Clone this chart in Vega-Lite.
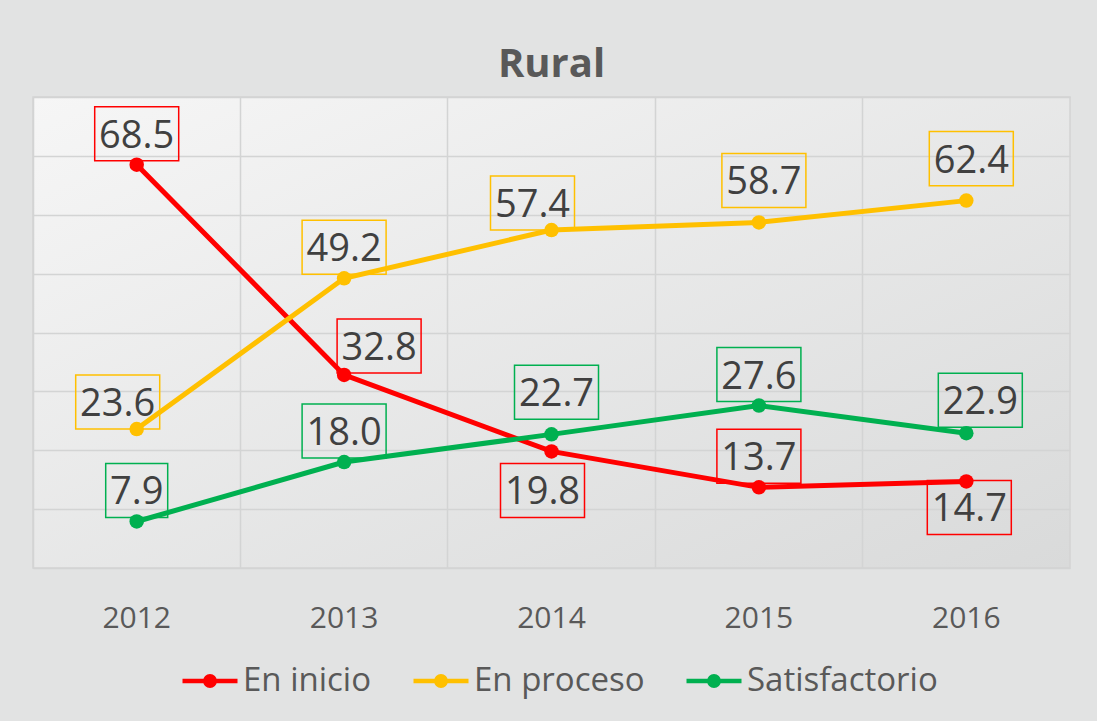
{
  "$schema": "https://vega.github.io/schema/vega-lite/v6.json",
  "width": 1037,
  "height": 471,
  "autosize": "none",
  "padding": {"left": 33, "top": 97, "right": 27, "bottom": 153},
  "background": "#e2e3e3",
  "config": {
    "font": "Open Sans",
    "view": {
      "stroke": "#d3d4d4",
      "strokeWidth": 1.5,
      "fill": {
        "gradient": "linear",
        "x1": 0, "y1": 0, "x2": 1, "y2": 1,
        "stops": [{"offset": 0, "color": "#f6f6f6"}, {"offset": 1, "color": "#d9dada"}]
      }
    },
    "axis": {"gridColor": "#d3d4d4", "gridWidth": 1.5, "domain": false, "ticks": false, "tickSize": 0}
  },
  "title": {"text": "Rural", "fontSize": 40, "fontWeight": "bold", "color": "#595959", "offset": 12, "anchor": "middle", "font": "Open Sans"},
  "data": {
    "values": [
      {"year": "2012", "series": "En inicio", "value": 68.5},
      {"year": "2013", "series": "En inicio", "value": 32.8},
      {"year": "2014", "series": "En inicio", "value": 19.8},
      {"year": "2015", "series": "En inicio", "value": 13.7},
      {"year": "2016", "series": "En inicio", "value": 14.7},
      {"year": "2012", "series": "En proceso", "value": 23.6},
      {"year": "2013", "series": "En proceso", "value": 49.2},
      {"year": "2014", "series": "En proceso", "value": 57.4},
      {"year": "2015", "series": "En proceso", "value": 58.7},
      {"year": "2016", "series": "En proceso", "value": 62.4},
      {"year": "2012", "series": "Satisfactorio", "value": 7.9},
      {"year": "2013", "series": "Satisfactorio", "value": 18.0},
      {"year": "2014", "series": "Satisfactorio", "value": 22.7},
      {"year": "2015", "series": "Satisfactorio", "value": 27.6},
      {"year": "2016", "series": "Satisfactorio", "value": 22.9}
    ]
  },
  "encoding": {
    "x": {
      "field": "year", "type": "ordinal",
      "scale": {"type": "band", "paddingInner": 0, "paddingOuter": 0},
      "axis": {"title": null, "labelAngle": 0, "bandPosition": 0, "labelFontSize": 30, "labelColor": "#595959", "labelPadding": 35, "grid": true, "labelFont": "Open Sans"}
    },
    "y": {
      "field": "value", "type": "quantitative",
      "scale": {"domain": [0, 80], "nice": false},
      "axis": {"title": null, "labels": false, "values": [0, 10, 20, 30, 40, 50, 60, 70, 80], "minExtent": 0, "grid": true}
    }
  },
  "layer": [
    {
      "mark": {"type": "line", "strokeWidth": 5},
      "encoding": {
        "color": {
          "field": "series", "type": "nominal",
          "scale": {"domain": ["En inicio", "En proceso", "Satisfactorio"], "range": ["#ff0000", "#ffc000", "#00b050"]},
          "legend": {
            "title": null, "orient": "none", "direction": "horizontal", "legendX": 147, "legendY": 554,
            "labelFontSize": 33, "labelColor": "#595959", "labelFont": "Open Sans", "labelLimit": 400,
            "symbolType": "M-1,0H1M-0.17,0A0.17,0.17,0,1,1,0.17,0A0.17,0.17,0,1,1,-0.17,0Z",
            "symbolSize": 3025, "symbolStrokeWidth": 4.5, "labelOffset": 3, "columnPadding": 32,
            "encode": {"symbols": {"update": {"fill": {"scale": "color", "field": "value"}, "stroke": {"scale": "color", "field": "value"}, "opacity": {"value": 1}}}}
          }
        }
      }
    },
    {
      "mark": {"type": "point", "filled": true, "size": 210, "opacity": 1},
      "encoding": {"color": {"field": "series", "type": "nominal"}}
    },
    {
      "transform": [{"filter": "!((datum.series=='En proceso' && (datum.year=='2015'||datum.year=='2016'||datum.year=='2012'||datum.year=='2014')) || (datum.series=='Satisfactorio' && (datum.year=='2014'||datum.year=='2016')) || (datum.series=='En inicio' && (datum.year=='2013'||datum.year=='2014'||datum.year=='2016')))"}],
      "layer": [
        {
          "mark": {"type": "point", "filled": false, "size": 7056, "strokeWidth": 1.5, "opacity": 1, "yOffset": -31},
          "encoding": {
            "color": {"field": "series", "type": "nominal"},
            "shape": {"condition": {"test": "datum.value < 10", "value": "M-0.738,-0.643H0.738V0.643H-0.738Z"}, "value": "M-1,-0.643H1V0.643H-1Z"}
          }
        },
        {
          "mark": {"type": "text", "font": "Open Sans", "fontSize": 38, "color": "#404040", "yOffset": -28},
          "encoding": {"text": {"field": "value", "type": "quantitative", "format": ".1f"}}
        }
      ]
    },
    {
      "transform": [{"filter": "datum.series=='Satisfactorio' && datum.year=='2016'"}],
      "layer": [
        {
          "mark": {"type": "point", "filled": false, "size": 7056, "strokeWidth": 1.5, "opacity": 1, "yOffset": -33, "xOffset": 14, "shape": "M-1,-0.643H1V0.643H-1Z"},
          "encoding": {"color": {"field": "series", "type": "nominal"}}
        },
        {
          "mark": {"type": "text", "font": "Open Sans", "fontSize": 38, "color": "#404040", "yOffset": -30, "xOffset": 14},
          "encoding": {"text": {"field": "value", "type": "quantitative", "format": ".1f"}}
        }
      ]
    },
    {
      "transform": [{"filter": "(datum.series=='En proceso' && (datum.year=='2015'||datum.year=='2016')) || (datum.series=='Satisfactorio' && datum.year=='2014')"}],
      "layer": [
        {
          "mark": {"type": "point", "filled": false, "size": 7056, "strokeWidth": 1.5, "opacity": 1, "yOffset": -42, "xOffset": 5, "shape": "M-1,-0.643H1V0.643H-1Z"},
          "encoding": {"color": {"field": "series", "type": "nominal"}}
        },
        {
          "mark": {"type": "text", "font": "Open Sans", "fontSize": 38, "color": "#404040", "yOffset": -39, "xOffset": 5},
          "encoding": {"text": {"field": "value", "type": "quantitative", "format": ".1f"}}
        }
      ]
    },
    {
      "transform": [{"filter": "datum.series=='En inicio' && datum.year=='2014'"}],
      "layer": [
        {
          "mark": {"type": "point", "filled": false, "size": 7056, "strokeWidth": 1.5, "opacity": 1, "yOffset": 39, "xOffset": -9, "shape": "M-1,-0.643H1V0.643H-1Z"},
          "encoding": {"color": {"field": "series", "type": "nominal"}}
        },
        {
          "mark": {"type": "text", "font": "Open Sans", "fontSize": 38, "color": "#404040", "yOffset": 42, "xOffset": -9},
          "encoding": {"text": {"field": "value", "type": "quantitative", "format": ".1f"}}
        }
      ]
    },
    {
      "transform": [{"filter": "datum.series=='En inicio' && datum.year=='2016'"}],
      "layer": [
        {
          "mark": {"type": "point", "filled": false, "size": 7056, "strokeWidth": 1.5, "opacity": 1, "yOffset": 26, "xOffset": 3, "shape": "M-1,-0.643H1V0.643H-1Z"},
          "encoding": {"color": {"field": "series", "type": "nominal"}}
        },
        {
          "mark": {"type": "text", "font": "Open Sans", "fontSize": 38, "color": "#404040", "yOffset": 29, "xOffset": 3},
          "encoding": {"text": {"field": "value", "type": "quantitative", "format": ".1f"}}
        }
      ]
    },
    {
      "transform": [{"filter": "datum.series=='En inicio' && datum.year=='2013'"}],
      "layer": [
        {
          "mark": {"type": "point", "filled": false, "size": 7056, "strokeWidth": 1.5, "opacity": 1, "yOffset": -29, "xOffset": 35, "shape": "M-1,-0.643H1V0.643H-1Z"},
          "encoding": {"color": {"field": "series", "type": "nominal"}}
        },
        {
          "mark": {"type": "text", "font": "Open Sans", "fontSize": 38, "color": "#404040", "yOffset": -26, "xOffset": 35},
          "encoding": {"text": {"field": "value", "type": "quantitative", "format": ".1f"}}
        }
      ]
    },
    {
      "transform": [{"filter": "datum.series=='En proceso' && (datum.year=='2012'||datum.year=='2014')"}],
      "layer": [
        {
          "mark": {"type": "point", "filled": false, "size": 7056, "strokeWidth": 1.5, "opacity": 1, "yOffset": -27, "xOffset": -19, "shape": "M-1,-0.643H1V0.643H-1Z"},
          "encoding": {"color": {"field": "series", "type": "nominal"}}
        },
        {
          "mark": {"type": "text", "font": "Open Sans", "fontSize": 38, "color": "#404040", "yOffset": -24, "xOffset": -19},
          "encoding": {"text": {"field": "value", "type": "quantitative", "format": ".1f"}}
        }
      ]
    }
  ]
}
